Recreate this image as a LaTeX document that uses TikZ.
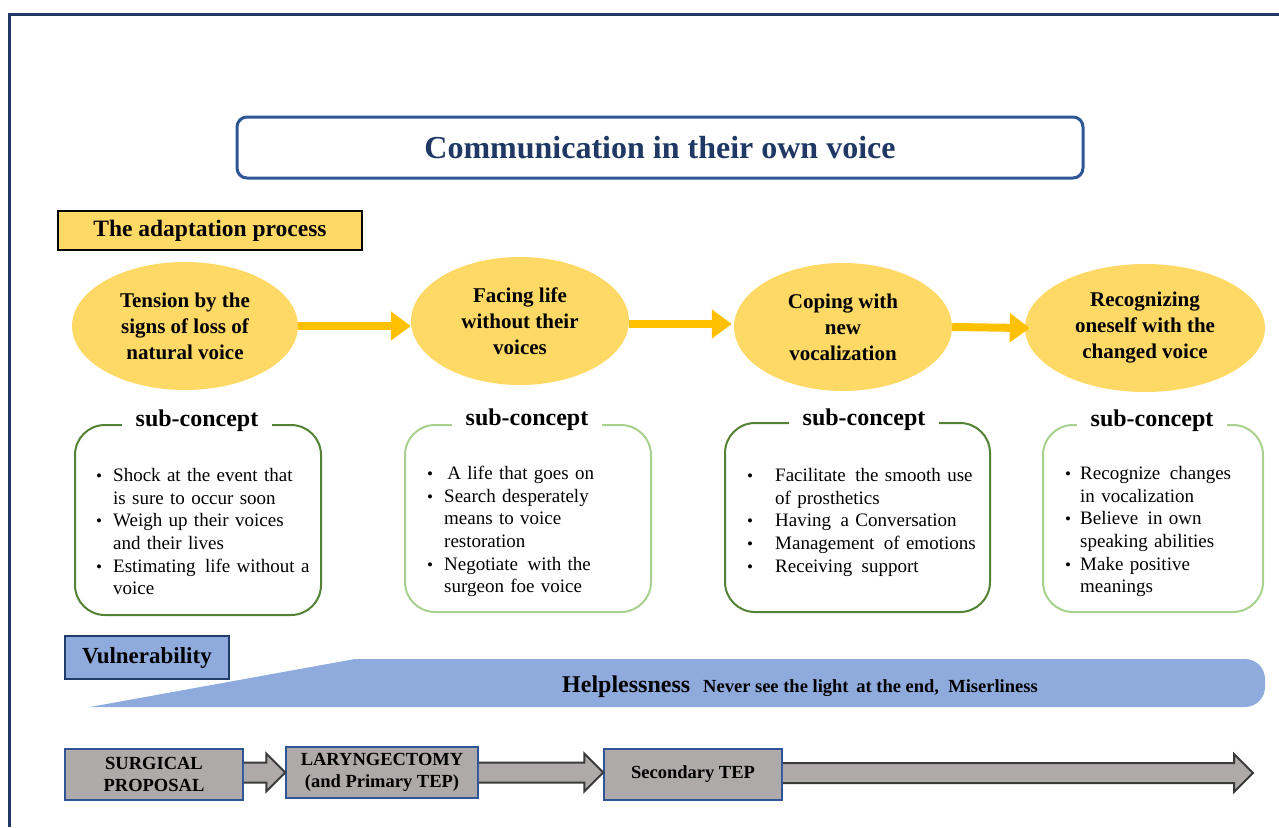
\documentclass[tikz,border=0pt]{standalone}
\usepackage{fontspec}
\setmainfont{Liberation Serif}
\usetikzlibrary{arrows.meta,calc,shapes.geometric}

\definecolor{navy}{HTML}{1F3864}
\definecolor{titleblue}{HTML}{2F5597}
\definecolor{sun}{HTML}{FFD966}
\definecolor{amber}{HTML}{FFC000}
\definecolor{sky}{HTML}{8FAADC}
\definecolor{stone}{HTML}{AEAAAA}
\definecolor{leafdark}{HTML}{548235}
\definecolor{leaflight}{HTML}{A9D18E}
\definecolor{edgegray}{HTML}{3A3A3A}

\newcommand{\fs}[2]{\fontsize{#1}{#2}\selectfont}
% bullet list with the bullet hanging at the left edge
\newenvironment{pts}[1]{\begin{list}{{\fs{17}{17}\textbullet}}{%
  \setlength\leftmargin{#1}\setlength\labelwidth{0pt}\setlength\labelsep{#1}%
  \setlength\itemsep{0pt}\setlength\parsep{0pt}\setlength\topsep{0pt}%
  \setlength\partopsep{0pt}\renewcommand\makelabel[1]{\rlap{##1}}}}{\end{list}}

\begin{document}
\begin{tikzpicture}[x=1pt,y=-1pt,
  stage/.style={ellipse, fill=sun, minimum width=#1, minimum height=128pt,
    inner sep=0pt, align=center, font=\fs{21}{26}\bfseries},
  flow/.style={amber, line width=8pt, -{Triangle[length=20pt,width=28pt]}},
  subbox/.style={rectangle, draw=#1, line width=2pt, rounded corners=30pt, inner sep=0pt},
  sublabel/.style={fill=white, inner xsep=14pt, inner ysep=3pt, font=\fs{24}{28}\bfseries},
  points/.style={anchor=base west, inner sep=0pt, text width=280pt, align=left,
    font=\fs{19}{22.6}},
  stepbox/.style={rectangle, draw=titleblue, line width=1.5pt, fill=stone,
    align=center, inner sep=0pt, font=\fs{18.5}{22.5}\bfseries},
  blockline/.style={draw=edgegray, line width=2pt, line join=miter}
]
\useasboundingbox (0,0) rectangle (1279,827);
\fill[white] (0,0) rectangle (1279,827);

% outer frame (left and top edges)
\draw[navy, line width=3pt] (9.5,827) -- (9.5,14.5) -- (1279,14.5);

% title
\node[rectangle, draw=titleblue, line width=3pt, rounded corners=10pt,
  minimum width=846pt, minimum height=61pt, inner sep=0pt,
  text=navy, font=\fs{32}{38}\bfseries] (title) at (660,147.5)
  {Communication in their own voice};

% phase heading
\node[rectangle, draw=black, line width=2pt, fill=sun, minimum width=304pt,
  minimum height=39pt, inner sep=0pt, font=\fs{23.5}{28}\bfseries]
  (phase) at (210,230.5) {The adaptation process};

% stages
\node[stage=226pt] (e1) at (185,326) {Tension by the\\signs of loss of\\natural voice};
\node[stage=218pt] (e2) at (520,321) {Facing life\\without their\\voices};
\node[stage=218pt] (e3) at (843,327) {Coping with\\new\\vocalization};
\node[stage=240pt] (e4) at (1145,328) {Recognizing\\oneself with the\\changed voice};

\coordinate (a2) at ($(e2.east)+(0,3)$);
\draw[flow] (e1.east) -- (e2.west |- e1.east);
\draw[flow] (a2) -- ($(e3.west |- a2)+(-2,0)$);
\draw[flow, shorten >=-5pt] (e3.east) -- (e4.west);

% sub-concept boxes
\node[subbox=leafdark, minimum width=246pt, minimum height=190pt] (b1) at (198,520) {};
\node[subbox=leaflight, minimum width=246pt, minimum height=187pt] (b2) at (528,518.5) {};
\node[subbox=leafdark, minimum width=265pt, minimum height=189pt] (b3) at (857.5,517.5) {};
\node[subbox=leaflight, minimum width=220pt, minimum height=187pt] (b4) at (1153,518.5) {};

\node[sublabel] (l1) at (197,421) {sub-concept};
\node[sublabel] (l2) at (527,420) {sub-concept};
\node[sublabel] (l3) at (864,420) {sub-concept};
\node[sublabel] (l4) at (1152,421) {sub-concept};

\node[points] (p1) at (96,459) {\begin{pts}{17pt}
  \item Shock at the event that\\is sure to occur soon
  \item Weigh up their voices\\and their lives
  \item Estimating\, life without a\\voice
\end{pts}};
\node[points] (p2) at (427,457) {\begin{pts}{17pt}
  \item \,A life that goes on
  \item Search desperately\\means to voice\\restoration
  \item Negotiate\, with the\\surgeon foe voice
\end{pts}};
\node[points] (p3) at (747,459) {\begin{pts}{28pt}
  \item Facilitate\, the smooth use\\of prosthetics
  \item Having\, a Conversation
  \item Management\, of emotions
  \item Receiving\, support
\end{pts}};
\node[points] (p4) at (1065,457) {\begin{pts}{15pt}
  \item Recognize\, changes\\in vocalization
  \item Believe\, in own\\speaking abilities
  \item Make positive\\meanings
\end{pts}};

% vulnerability band
\fill[sky] (90,707) -- (355,659) [rounded corners=20pt] -- (1265,659) -- (1265,707)
  [sharp corners] -- cycle;
\node[rectangle, draw=titleblue!70!black, line width=1.5pt, fill=sky,
  minimum width=164pt, minimum height=43pt, inner sep=0pt,
  font=\fs{23}{28}\bfseries] (vul) at (147,657.5) {Vulnerability};
\node[anchor=base west, inner sep=0pt] (help) at (562,692)
  {{\fs{24}{28}\bfseries Helplessness}\hspace{13pt}{\fs{18.5}{22}\bfseries Never see the light\, at the end,\ \ Miserliness}};

% clinical timeline
\node[stepbox, minimum width=178pt, minimum height=51pt] (sp) at (154,774.5) {SURGICAL\\PROPOSAL};
\node[stepbox, minimum width=192pt, minimum height=51pt] (lar) at (382,772.5) {LARYNGECTOMY\\(and Primary TEP)};
\node[stepbox, minimum width=178pt, minimum height=51pt] (sec) at (693,774.5) {Secondary TEP};
\coordinate (tip) at (1253,773);

% block arrows between the steps
\fill[stone] ($(sp.east |- lar.west)+(0,-10)$) -- ($(lar.west)+(-19,-10)$) -- ($(lar.west)+(-19,-19)$)
  -- (lar.west) -- ($(lar.west)+(-19,19)$) -- ($(lar.west)+(-19,10)$) -- ($(sp.east |- lar.west)+(0,10)$) -- cycle;
\draw[blockline] ($(sp.east |- lar.west)+(0,-10)$) -- ($(lar.west)+(-19,-10)$) -- ($(lar.west)+(-19,-19)$)
  -- (lar.west) -- ($(lar.west)+(-19,19)$) -- ($(lar.west)+(-19,10)$) -- ($(sp.east |- lar.west)+(0,10)$);

\fill[stone] ($(lar.east)+(0,-10)$) -- ($(sec.west |- lar.east)+(-19,-10)$) -- ($(sec.west |- lar.east)+(-19,-19)$)
  -- (sec.west |- lar.east) -- ($(sec.west |- lar.east)+(-19,19)$) -- ($(sec.west |- lar.east)+(-19,10)$) -- ($(lar.east)+(0,10)$) -- cycle;
\draw[blockline] ($(lar.east)+(0,-10)$) -- ($(sec.west |- lar.east)+(-19,-10)$) -- ($(sec.west |- lar.east)+(-19,-19)$)
  -- (sec.west |- lar.east) -- ($(sec.west |- lar.east)+(-19,19)$) -- ($(sec.west |- lar.east)+(-19,10)$) -- ($(lar.east)+(0,10)$);

\fill[stone] ($(sec.east |- tip)+(0,-10)$) -- ($(tip)+(-19,-10)$) -- ($(tip)+(-19,-19)$)
  -- (tip) -- ($(tip)+(-19,19)$) -- ($(tip)+(-19,10)$) -- ($(sec.east |- tip)+(0,10)$) -- cycle;
\draw[blockline] ($(sec.east |- tip)+(0,-10)$) -- ($(tip)+(-19,-10)$) -- ($(tip)+(-19,-19)$)
  -- (tip) -- ($(tip)+(-19,19)$) -- ($(tip)+(-19,10)$) -- ($(sec.east |- tip)+(0,10)$);
\end{tikzpicture}
\end{document}
